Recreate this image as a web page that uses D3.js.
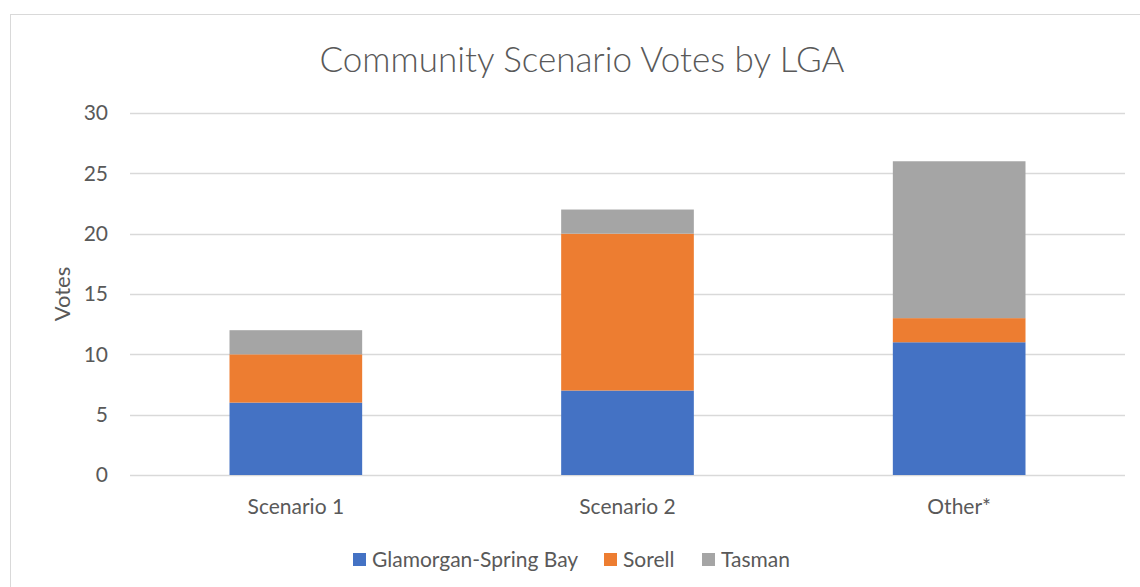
<!DOCTYPE html>
<html>
<head>
<meta charset="utf-8">
<script src="https://cdn.jsdelivr.net/npm/d3@7"></script>
<style>
  body { margin: 0; background: #fff; }
  svg { display: block; font-family: Lato, "Open Sans", sans-serif; }
</style>
</head>
<body>
<svg id="chart" width="1140" height="587"></svg>
<script>
const categories = ["Scenario 1", "Scenario 2", "Other*"];
const seriesNames = ["Glamorgan-Spring Bay", "Sorell", "Tasman"];
const glamorgan = [6, 7, 11];
const sorell = [4, 13, 2];
const tasman = [2, 2, 13];
const yTicks = [0, 5, 10, 15, 20, 25, 30];
const colors = ["#4472C4", "#ED7D31", "#A5A5A5"];

const svg = d3.select("#chart");
const textColor = "#595959";

// chart border
svg.append("rect")
  .attr("x", 10.5).attr("y", 14.5)
  .attr("width", 1160).attr("height", 600)
  .attr("fill", "none").attr("stroke", "#d9d9d9");

const plotLeft = 130, plotRight = 1125, plotTop = 113, plotBottom = 475;

const x = d3.scaleBand().domain(categories).range([plotLeft, plotRight])
  .paddingInner(0.6).paddingOuter(0.3);
const y = d3.scaleLinear().domain([0, 30]).range([plotBottom, plotTop]);

// gridlines
svg.append("g").selectAll("line").data(yTicks).join("line")
  .attr("x1", plotLeft).attr("x2", plotRight)
  .attr("y1", d => Math.round(y(d)) + 0.5).attr("y2", d => Math.round(y(d)) + 0.5)
  .attr("stroke", "#d9d9d9").attr("stroke-width", 1.3);

// y tick labels
svg.append("g").selectAll("text").data(yTicks).join("text")
  .attr("x", 108).attr("y", d => y(d))
  .attr("dy", "0.35em").attr("text-anchor", "end")
  .attr("fill", textColor).attr("font-size", 21)
  .text(d => d);

// stacked data
const rows = categories.map((c, i) => ({
  cat: c, "Glamorgan-Spring Bay": glamorgan[i], "Sorell": sorell[i], "Tasman": tasman[i]
}));
const stacked = d3.stack().keys(seriesNames)(rows);

svg.append("g").selectAll("g").data(stacked).join("g")
  .attr("fill", (d, i) => colors[i])
  .selectAll("rect").data(d => d).join("rect")
  .attr("x", d => x(d.data.cat))
  .attr("width", x.bandwidth())
  .attr("y", d => y(d[1]))
  .attr("height", d => y(d[0]) - y(d[1]));

// category labels
svg.append("g").selectAll("text").data(categories).join("text")
  .attr("x", d => x(d) + x.bandwidth() / 2).attr("y", 507)
  .attr("dy", "0.35em")
  .attr("text-anchor", "middle")
  .attr("fill", textColor).attr("font-size", 21)
  .text(d => d);

// title
svg.append("text")
  .attr("x", 582).attr("y", 60)
  .attr("dy", "0.35em")
  .attr("text-anchor", "middle")
  .attr("fill", textColor).attr("font-size", 35).attr("font-weight", 300)
  .text("Community Scenario Votes by LGA");

// y axis title
svg.append("text")
  .attr("transform", "translate(62,294) rotate(-90)")
  .attr("dy", "0.35em")
  .attr("text-anchor", "middle")
  .attr("fill", textColor).attr("font-size", 22)
  .text("Votes");

// legend
const legendX = [353, 604, 702];
const legend = svg.append("g").selectAll("g").data(seriesNames).join("g")
  .attr("transform", (d, i) => `translate(${legendX[i]},553)`);
legend.append("rect").attr("width", 13).attr("height", 13)
  .attr("fill", (d, i) => colors[i]);
legend.append("text").attr("x", 19).attr("y", 6.5).attr("dy", "0.35em")
  .attr("fill", textColor).attr("font-size", 21)
  .text(d => d);
</script>
</body>
</html>
